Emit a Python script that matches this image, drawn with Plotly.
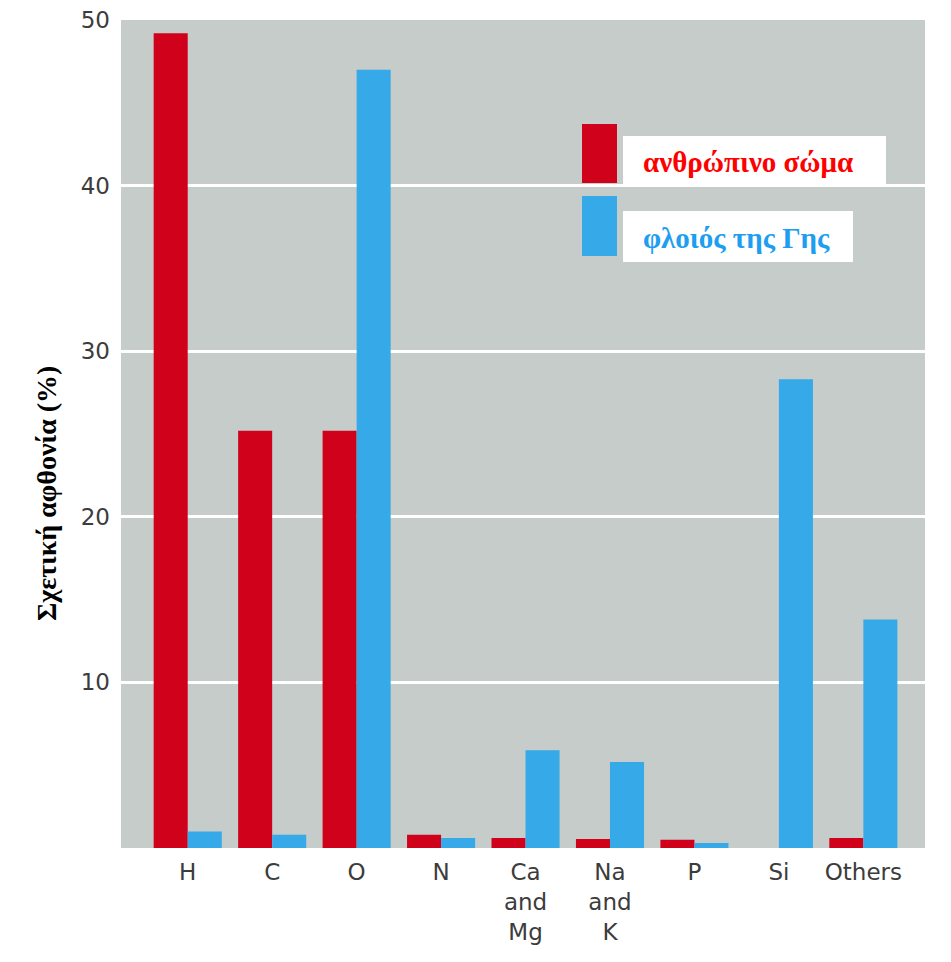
import plotly.graph_objects as go

categories = ["H", "C", "O", "N", "Ca<br>and<br>Mg", "Na<br>and<br>K", "P", "Si", "Others"]
human_body = [49.2, 25.2, 25.2, 0.8, 0.6, 0.55, 0.5, 0.0, 0.6]
earth_crust = [1.0, 0.8, 47.0, 0.6, 5.9, 5.2, 0.3, 28.3, 13.8]
y_ticks = [10, 20, 30, 40, 50]

series_names = ["ανθρώπινο σώμα", "φλοιός της Γης"]
y_title = "Σχετική αφθονία (%)"
RED = "#d0021b"
BLUE = "#36a9e8"

# page has an 8px body margin; figure size chosen so the whole page is 951x962
OFF = 8
W, H = 951 - 2 * OFF, 962 - 2 * OFF
# target plot-area edges in screenshot pixels
L, R, T, B = 121, 925, 20, 848


def px(x):
    return (x - L) / (R - L)


def py(y):
    return (B - y) / (B - T)


fig = go.Figure()
fig.add_trace(go.Bar(x=list(range(len(categories))), y=human_body, name=series_names[0],
                     marker=dict(color=RED, line=dict(width=0))))
fig.add_trace(go.Bar(x=list(range(len(categories))), y=earth_crust, name=series_names[1],
                     marker=dict(color=BLUE, line=dict(width=0))))

shapes = [
    dict(type="rect", xref="paper", yref="paper", x0=px(582), x1=px(617), y0=py(183), y1=py(124),
         fillcolor=RED, line=dict(width=0), layer="above"),
    dict(type="rect", xref="paper", yref="paper", x0=px(582), x1=px(617), y0=py(256), y1=py(196),
         fillcolor=BLUE, line=dict(width=0), layer="above"),
    dict(type="rect", xref="paper", yref="paper", x0=px(623), x1=px(886), y0=py(187), y1=py(136),
         fillcolor="white", line=dict(width=0), layer="above"),
    dict(type="rect", xref="paper", yref="paper", x0=px(623), x1=px(853), y0=py(262), y1=py(211),
         fillcolor="white", line=dict(width=0), layer="above"),
]

annotations = [
    dict(text="<b>" + series_names[0] + "</b>", xref="paper", yref="paper", x=px(641), y=py(162),
         xanchor="left", yanchor="middle", showarrow=False,
         font=dict(family="Liberation Serif", size=29, color="#ff0000")),
    dict(text="<b>" + series_names[1] + "</b>", xref="paper", yref="paper", x=px(641), y=py(238),
         xanchor="left", yanchor="middle", showarrow=False,
         font=dict(family="Liberation Serif", size=29, color="#1e9ef0")),
    dict(text="<b>" + y_title + "</b>", xref="paper", yref="paper", x=px(46), y=py(494),
         xanchor="center", yanchor="middle", showarrow=False, textangle=-90,
         font=dict(family="Liberation Serif", size=28, color="black")),
]

fig.update_layout(
    width=W, height=H,
    margin=dict(l=L - OFF, r=W - (R - OFF), t=T - OFF, b=H - (B - OFF)),
    paper_bgcolor="white",
    plot_bgcolor="#c6ccc9",
    barmode="group",
    bargap=0.194,
    bargroupgap=0,
    showlegend=False,
    shapes=shapes,
    annotations=annotations,
    font=dict(family="DejaVu Sans", size=23, color="#3c3c3c"),
)
fig.update_xaxes(
    tickmode="array", tickvals=list(range(len(categories))), ticktext=categories,
    range=[-0.79, 8.73], showgrid=False, zeroline=False, showline=False, ticks="",
    ticklabelstandoff=8, automargin=False,
)
fig.update_yaxes(
    range=[0, 50], tickmode="array", tickvals=y_ticks,
    showgrid=True, gridcolor="white", gridwidth=3, zeroline=False, showline=False, ticks="",
    ticklabelstandoff=10, ticklabeloverflow="allow", automargin=False,
)

fig.write_html("out.html")
